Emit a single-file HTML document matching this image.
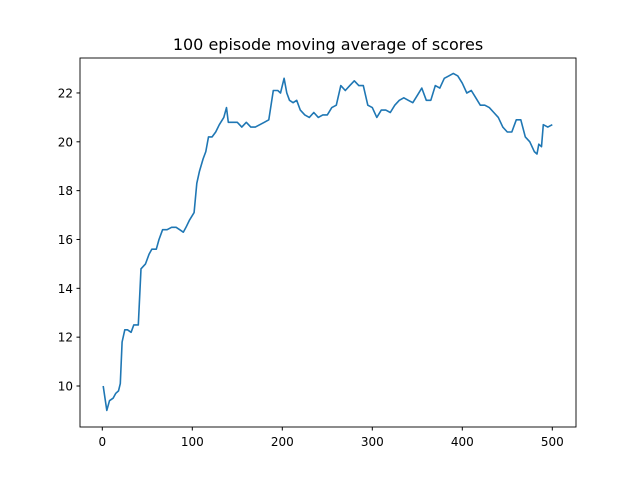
<!DOCTYPE html>
<html><head><meta charset="utf-8"><style>body{margin:0;background:#fff}svg{display:block}text{font-family:"DejaVu Sans","Liberation Sans",sans-serif}</style></head>
<body>
<svg id="chart" width="640" height="480">
<rect width="640" height="480" fill="#fff"/>
<text x="328" y="50" font-size="16" text-anchor="middle">100 episode moving average of scores</text>
<g id="ticks"></g>
<path id="line" fill="none" stroke="#1f77b4" stroke-width="1.6" stroke-linejoin="round"/>
<rect x="80" y="58" width="496" height="369" fill="none" stroke="#000" stroke-width="0.9"/>
</svg>
<script>
const episodes=[1,3,5,8,12,15,18,20,22,25,28,32,35,40,43,48,52,55,60,63,67,72,77,82,86,90,93,97,102,105,108,112,115,118,122,126,130,135,138,140,145,150,155,160,165,170,175,180,185,190,195,198,202,205,208,212,216,220,225,230,235,240,245,250,255,260,265,270,275,280,285,290,295,300,305,310,315,320,325,330,335,340,345,350,355,360,365,370,375,380,385,390,395,400,405,410,415,420,425,430,435,440,445,450,455,460,465,470,475,480,483,485,488,490,495,500];
const scores=[10.0,9.5,9.0,9.4,9.5,9.7,9.8,10.1,11.8,12.3,12.3,12.2,12.5,12.5,14.8,15.0,15.4,15.6,15.6,16.0,16.4,16.4,16.5,16.5,16.4,16.3,16.5,16.8,17.1,18.3,18.8,19.3,19.6,20.2,20.2,20.4,20.7,21.0,21.4,20.8,20.8,20.8,20.6,20.8,20.6,20.6,20.7,20.8,20.9,22.1,22.1,22.0,22.6,22.0,21.7,21.6,21.7,21.3,21.1,21.0,21.2,21.0,21.1,21.1,21.4,21.5,22.3,22.1,22.3,22.5,22.3,22.3,21.5,21.4,21.0,21.3,21.3,21.2,21.5,21.7,21.8,21.7,21.6,21.9,22.2,21.7,21.7,22.3,22.2,22.6,22.7,22.8,22.7,22.4,22.0,22.1,21.8,21.5,21.5,21.4,21.2,21.0,20.6,20.4,20.4,20.9,20.9,20.2,20.0,19.6,19.5,19.9,19.8,20.7,20.6,20.7];
const xTicks=[0,100,200,300,400,500];
const yTicks=[10,12,14,16,18,20,22];
const X=v=>102.3+v*0.9;
const Y=v=>386-(v-10)*24.42;
const ns="http://www.w3.org/2000/svg";
const g=document.getElementById('ticks');
xTicks.forEach(t=>{
 const l=document.createElementNS(ns,'line');
 
 
 l.setAttribute('x1',X(t));l.setAttribute('x2',X(t));l.setAttribute('y1',427);l.setAttribute('y2',430.5);l.setAttribute('stroke','#000');g.appendChild(l);
 const s=document.createElementNS(ns,'text');
 
 
 s.setAttribute('x',X(t));s.setAttribute('y',446);s.setAttribute('font-size','12');s.setAttribute('text-anchor','middle');s.textContent=t;g.appendChild(s);
});
yTicks.forEach(t=>{
 const l=document.createElementNS(ns,'line');
 
 
 l.setAttribute('x1',76.5);l.setAttribute('x2',80);l.setAttribute('y1',Y(t));l.setAttribute('y2',Y(t));l.setAttribute('stroke','#000');g.appendChild(l);
 const s=document.createElementNS(ns,'text');
 
 
 s.setAttribute('x',73);s.setAttribute('y',Y(t)+4.5);s.setAttribute('font-size','12');s.setAttribute('text-anchor','end');s.textContent=t;g.appendChild(s);
});
document.getElementById('line').setAttribute('d',episodes.map((e,i)=>(i?'L':'M')+X(e).toFixed(1)+' '+Y(scores[i]).toFixed(1)).join(' '));
</script>
</body></html>
